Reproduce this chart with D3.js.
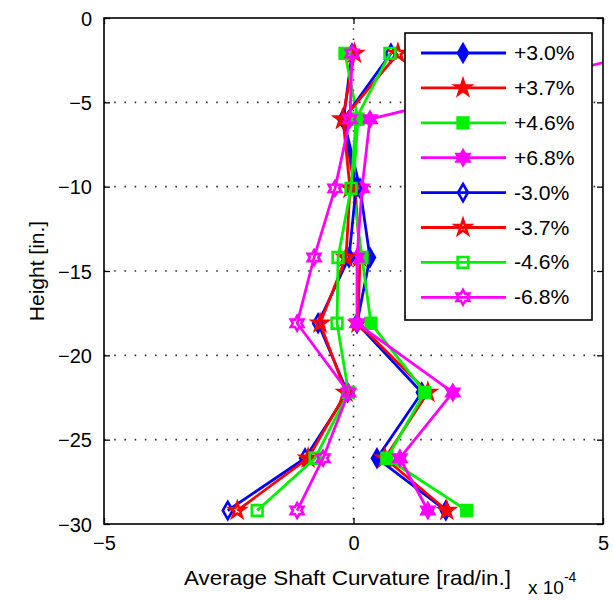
<!DOCTYPE html>
<html>
<head>
<meta charset="utf-8">
<script src="https://cdn.jsdelivr.net/npm/d3@7"></script>
<style>
  body { margin: 0; background: #fff; }
  text { font-family: "Liberation Sans", Arial, sans-serif; fill: #000; }
</style>
</head>
<body>
<div id="chart"></div>
<script>
// measurement heights (in.)
const heights = [-2.1, -6.0, -10.1, -14.2, -18.1, -22.2, -26.1, -29.2];

// average shaft curvature, x 10^-4 rad/in.
const pos30 = [-0.03, -0.20, 0.13, 0.33, 0.07, 1.37, 0.47, 1.85];
const pos37 = [0.02, -0.22, 0.03, 0.13, 0.09, 1.49, 0.63, 1.87];
const pos46 = [-0.17, 0.09, -0.01, 0.17, 0.35, 1.43, 0.67, 2.27];
const pos68 = [5.76, 0.33, 0.17, 0.07, 0.07, 1.99, 0.93, 1.49];
const neg30 = [0.75, -0.20, 0.05, -0.09, -0.71, -0.12, -0.97, -2.52];
const neg37 = [0.89, -0.21, -0.07, -0.15, -0.67, -0.15, -0.91, -2.33];
const neg46 = [0.73, 0.05, -0.05, -0.31, -0.33, -0.10, -0.77, -1.93];
const neg68 = [-0.03, -0.07, -0.37, -0.79, -1.13, -0.10, -0.61, -1.13];

const seriesNames = ["+3.0%", "+3.7%", "+4.6%", "+6.8%", "-3.0%", "-3.7%", "-4.6%", "-6.8%"];
const seriesValues = [pos30, pos37, pos46, pos68, neg30, neg37, neg46, neg68];

const xTicks = [-5, 0, 5];
const yTicks = [0, -5, -10, -15, -20, -25, -30];

// 6-pointed star (MATLAB hexagram)
const symbolHexagram = {
    draw(context, size) {
        const r = Math.sqrt(size) * 0.62;
        const ri = r / Math.sqrt(3);
        for (let i = 0; i < 12; i++) {
            const a = -Math.PI / 2 + i * Math.PI / 6;
            const rr = i % 2 === 0 ? r : ri;
            const px = rr * Math.cos(a), py = rr * Math.sin(a);
            if (i === 0) context.moveTo(px, py); else context.lineTo(px, py);
        }
        context.closePath();
    }
};

const colors = ["#0000ff", "#ff0000", "#00f000", "#ff00ff"];
const shapes = [
    d3.symbol().type(d3.symbolDiamond).size(85),
    d3.symbol().type(d3.symbolStar).size(70),
    d3.symbol().type(d3.symbolSquare).size(115),
    d3.symbol().type(symbolHexagram).size(140)
];

const width = 613, height = 601;
const margin = {left: 104, right: 10, top: 18, bottom: 77};

const svg = d3.select("#chart").append("svg")
    .attr("width", width)
    .attr("height", height);

const x = d3.scaleLinear().domain([-5, 5]).range([margin.left, width - margin.right]);
const y = d3.scaleLinear().domain([-30, 0]).range([height - margin.bottom, margin.top]);

svg.append("defs").append("clipPath").attr("id", "clip")
    .append("rect")
    .attr("x", x(-5)).attr("y", y(0))
    .attr("width", x(5) - x(-5)).attr("height", y(-30) - y(0));

// dotted grid
const grid = svg.append("g").attr("stroke", "#333").attr("stroke-width", 1.6)
    .attr("stroke-dasharray", "1.6,8.6");
grid.selectAll(".gy").data(yTicks.filter(d => d !== 0 && d !== -30)).enter()
    .append("line")
    .attr("x1", x(-5)).attr("x2", x(5))
    .attr("y1", d => y(d)).attr("y2", d => y(d));
grid.selectAll(".gx").data([0]).enter()
    .append("line")
    .attr("x1", d => x(d)).attr("x2", d => x(d))
    .attr("y1", y(0)).attr("y2", y(-30));

// axes with inward ticks on all four sides
const tickLen = 6;
const axisB = svg.append("g").attr("transform", `translate(0,${y(-30)})`)
    .call(d3.axisBottom(x).tickValues(xTicks).tickSize(-tickLen).tickPadding(12).tickFormat(d3.format("d")));
const axisT = svg.append("g").attr("transform", `translate(0,${y(0)})`)
    .call(d3.axisTop(x).tickValues(xTicks).tickSize(-tickLen).tickFormat(""));
const axisL = svg.append("g").attr("transform", `translate(${x(-5)},0)`)
    .call(d3.axisLeft(y).tickValues(yTicks).tickSize(-tickLen).tickPadding(10).tickFormat(d3.format("d")));
const axisR = svg.append("g").attr("transform", `translate(${x(5)},0)`)
    .call(d3.axisRight(y).tickValues(yTicks).tickSize(-tickLen).tickFormat(""));

[axisB, axisT, axisL, axisR].forEach(a => {
    a.select(".domain").remove();
    a.selectAll(".tick line").attr("stroke", "#000").attr("stroke-width", 1.3);
    a.selectAll("text").style("font-size", "20px").attr("fill", "#000");
});
axisL.selectAll("text").attr("dy", "0.35em").attr("dx", "-2");
axisB.selectAll("text").attr("dy", "0.72em");

// series
const plot = svg.append("g").attr("clip-path", "url(#clip)");
seriesValues.forEach((vals, i) => {
    const k = i % 4;
    const filled = i < 4;
    const pts = vals.map((v, j) => [v, heights[j]]);
    plot.append("path")
        .datum(pts)
        .attr("fill", "none")
        .attr("stroke", colors[k])
        .attr("stroke-width", 2.8)
        .attr("stroke-linejoin", "round")
        .attr("d", d3.line().x(d => x(d[0])).y(d => y(d[1])));
    plot.selectAll(null).data(pts).enter()
        .append("path")
        .attr("transform", d => `translate(${x(d[0])},${y(d[1])})`)
        .attr("d", shapes[k]())
        .attr("fill", filled ? colors[k] : "none")
        .attr("stroke", colors[k])
        .attr("stroke-width", 2.6);
});

// frame
svg.append("rect")
    .attr("x", x(-5)).attr("y", y(0))
    .attr("width", x(5) - x(-5)).attr("height", y(-30) - y(0))
    .attr("fill", "none").attr("stroke", "#000").attr("stroke-width", 1.6);

// legend
const lg = svg.append("g");
lg.append("rect")
    .attr("x", 405).attr("y", 33).attr("width", 187).attr("height", 287)
    .attr("fill", "#fff").attr("stroke", "#000").attr("stroke-width", 1.6);
seriesNames.forEach((name, i) => {
    const k = i % 4;
    const ly = 53 + i * 34.9;
    lg.append("line")
        .attr("x1", 421).attr("x2", 506).attr("y1", ly).attr("y2", ly)
        .attr("stroke", colors[k]).attr("stroke-width", 2.8);
    lg.append("path")
        .attr("transform", `translate(463,${ly})`)
        .attr("d", shapes[k]())
        .attr("fill", i < 4 ? colors[k] : "none")
        .attr("stroke", colors[k]).attr("stroke-width", 2.6);
    lg.append("text")
        .attr("transform", `translate(514,${ly + 7})scale(1.06,1)`)
        .style("font-size", "20px")
        .text(name);
});

// axis labels
svg.append("text")
    .attr("transform", `translate(${(x(-5) + x(5)) / 2 - 6},585)scale(1.12,1)`)
    .attr("text-anchor", "middle")
    .style("font-size", "20px")
    .text("Average Shaft Curvature [rad/in.]");

svg.append("text")
    .attr("transform", `translate(44,${(y(0) + y(-30)) / 2})rotate(-90)scale(1.05,1)`)
    .attr("text-anchor", "middle")
    .style("font-size", "20px")
    .text("Height [in.]");

const ex = svg.append("text").attr("x", 528).attr("y", 594).style("font-size", "19px");
ex.append("tspan").text("x 10");
ex.append("tspan").attr("dy", -12).style("font-size", "14px").text("-4");
</script>
</body>
</html>
